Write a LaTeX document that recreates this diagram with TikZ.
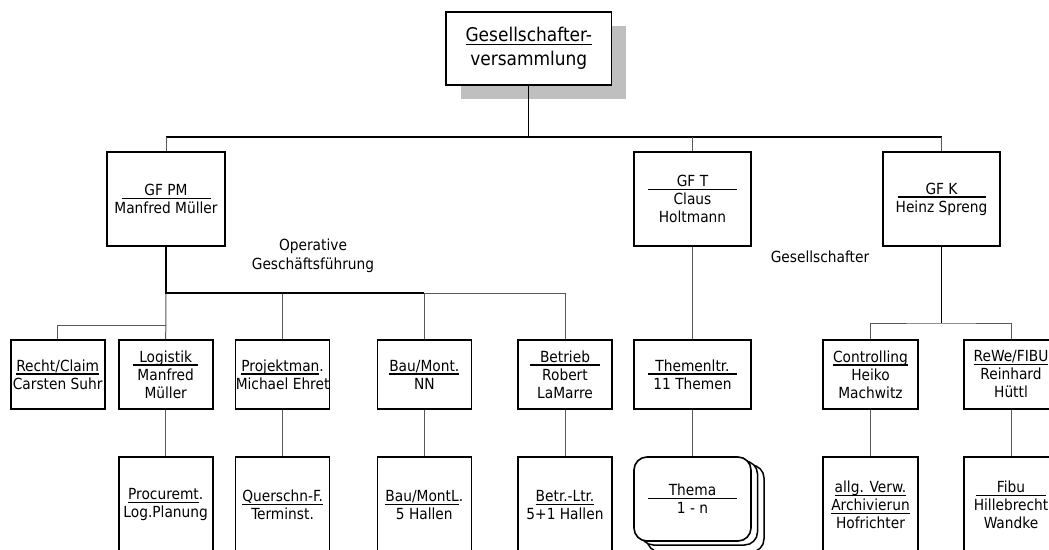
\documentclass[tikz,border=0pt]{standalone}
\usepackage{fontspec}
\setmainfont{DejaVu Sans Condensed}
\newcommand\ulr[2]{\makebox[#1pt]{#2}\llap{\rule[-3.5pt]{#1pt}{1.3pt}}}
\newcommand\ult[1]{\setbox0=\hbox{#1}\copy0\llap{\rule[-3.5pt]{\wd0}{1.3pt}}}
\begin{document}
\begin{tikzpicture}[x=1pt,y=-1pt,
  box/.style={draw=black, line width=1.6pt, fill=white, inner sep=0pt, align=center,
    font=\fontsize{15.3}{18}\selectfont},
  topbox/.style={box, font=\fontsize{18.9}{24}\selectfont},
  lbl/.style={inner sep=0pt, align=center, font=\fontsize{15.3}{19}\selectfont},
  bus/.style={draw=black, line width=1.3pt},
  thick bus/.style={draw=black, line width=2.2pt},
  thin/.style={draw=black!65, line width=1pt},
  stack/.style={draw=black, line width=1.5pt, fill=white, rounded corners=13pt}]
\useasboundingbox (0,0) rectangle (1049,549);
\clip (0,0) rectangle (1049,549);
\fill[white] (0,0) rectangle (1049,549);

% top box with shadow
\fill[black!25] (461,26) rectangle (626,99);
\node[topbox, minimum width=165.7, minimum height=73] (top) at (528.8,48.5)
  {\ult{Gesellschafter-}\\versammlung};

% GF level
\node[box, minimum width=117.7, minimum height=94] (gfpm) at (166,199)
  {\ulr{89}{GF PM}\\Manfred Müller};
\node[box, minimum width=117, minimum height=94] (gft) at (692.5,199)
  {\ulr{89}{GF T}\\Claus\\Holtmann};
\node[box, minimum width=117, minimum height=94] (gfk) at (941.5,199)
  {\ulr{88}{GF K}\\Heinz Spreng};

\node[lbl] (oplbl) at (313,256) {Operative\\Geschäftsführung};
\node[lbl] (gslbl) at (820,257) {Gesellschafter};

% second level
\node[box, minimum width=94, minimum height=69] (recht) at (57.7,374.5)
  {\ult{Recht/Claim}\\Carsten Suhr};
\node[box, minimum width=94, minimum height=69] (logistik) at (165.7,374.5)
  {\ulr{65}{Logistik}\\Manfred\\Müller};
\node[box, minimum width=94, minimum height=69] (projekt) at (282.6,374.5)
  {\ult{Projektman}.\\Michael Ehret};
\node[box, minimum width=94, minimum height=69] (bau) at (424.3,374.5)
  {\ult{Bau/Mont.}\\NN};
\node[box, minimum width=94, minimum height=69] (betrieb) at (565,374.5)
  {\ulr{70}{Betrieb}\\Robert\\LaMarre};
\node[box, minimum width=117, minimum height=69] (themen) at (692.5,374.5)
  {\ulr{89}{Themenltr.}\\11 Themen};
\node[box, minimum width=95, minimum height=69] (controlling) at (870.5,374.5)
  {\ult{Controlling}\\Heiko\\Machwitz};
\node[box, minimum width=94, minimum height=69] (rewe) at (1011,374.5)
  {\ult{ReWe/FIBU}\\Reinhard\\Hüttl};

% third level
\node[box, minimum width=94, minimum height=96] (procure) at (165.7,505)
  {\ult{Procuremt}.\\Log.Planung};
\node[box, minimum width=94, minimum height=96] (quer) at (282.6,505)
  {\ult{Querschn-F.}\\Terminst.};
\node[box, minimum width=94, minimum height=96] (baul) at (424.3,505)
  {\ult{Bau/MontL}.\\5 Hallen};
\node[box, minimum width=94, minimum height=96] (betrl) at (565,505)
  {\ult{Betr.-Ltr.}\\5+1 Hallen};
\draw[stack] (647,465) rectangle (764,552);
\draw[stack] (640.5,461) rectangle (757.5,545);
\node[box, rounded corners=13pt, minimum width=117, minimum height=84] (thema) at (692.5,499)
  {\ulr{89}{Thema}\\1 - n};
\node[box, minimum width=95, minimum height=96] (allg) at (870.5,505)
  {\ult{allg. Verw.}\\\ult{Archivierun}\\Hofrichter};
\node[box, minimum width=94, minimum height=96] (fibu) at (1011,505)
  {\ulr{70}{Fibu}\\Hillebrecht\\Wandke};

% connectors: top level
\coordinate (b1) at (528.8,137);
\draw[bus] (top.south) -- (b1);
\draw[bus] (gfpm.north |- b1) -- (gfk.north |- b1);
\draw[thin] (gfpm.north |- b1) -- (gfpm.north);
\draw[thin] (gft.north |- b1) -- (gft.north);
\draw[thin] (gfk.north |- b1) -- (gfk.north);

% GF PM branch
\coordinate (b2) at (166,293);
\coordinate (b3) at (166,325);
\draw[thin] (b2) -- (logistik.north);
\draw[thin] (b3) -| (recht.north);
\draw[thin] (bau.north |- b2) -- (betrieb.north |- b2) -- (betrieb.north);
\draw[thin] (projekt.north |- b2) -- (projekt.north);
\draw[thin] (bau.north |- b2) -- (bau.north);
\draw[thick bus] (gfpm.south) -- (b2) -- (bau.north |- b2);

% GF T branch
\draw[thin] (gft.south) -- (themen.north);
\draw[thin] (themen.south) -- (thema.north);

% GF K branch
\coordinate (b4) at (941.5,323);
\draw[bus] (gfk.south) -- (b4);
\draw[thin] (controlling.north) |- (b4) -| (rewe.north);

% lower connectors
\draw[thin] (logistik.south) -- (procure.north);
\draw[thin] (projekt.south) -- (quer.north);
\draw[thin] (bau.south) -- (baul.north);
\draw[thin] (betrieb.south) -- (betrl.north);
\draw[thin] (controlling.south) -- (allg.north);
\draw[thin] (rewe.south) -- (fibu.north);
\end{tikzpicture}
\end{document}
